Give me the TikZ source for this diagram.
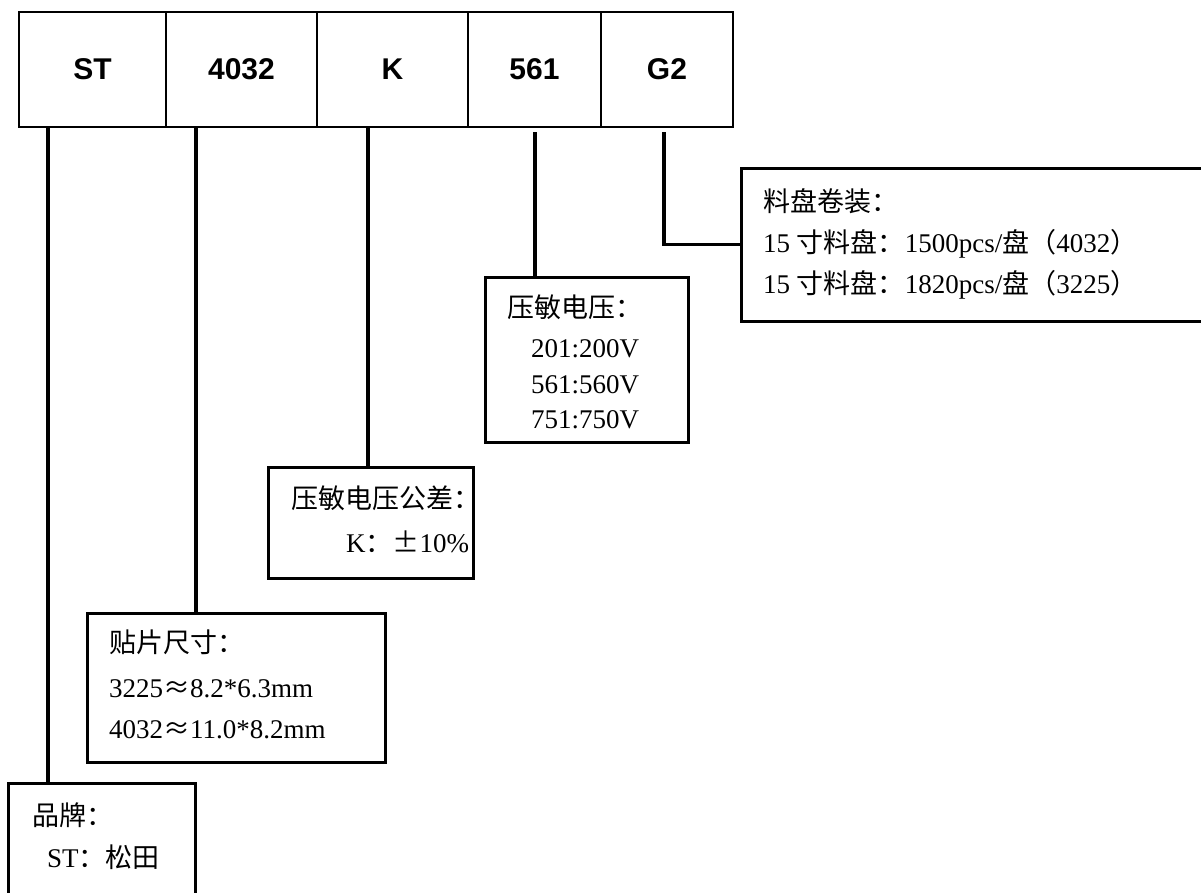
\documentclass[tikz,border=0pt]{standalone}
\usepackage{fontspec}
\setmainfont{Liberation Serif}
\newfontfamily\cjkfont{Noto Sans CJK SC}
\newfontfamily\codefont{Liberation Sans}
\newcommand{\zh}[1]{{\cjkfont #1}}
\begin{document}
\begin{tikzpicture}[x=1pt,y=-1pt,
  cell/.style={draw,line width=2.6pt,minimum height=115,inner sep=0pt,outer sep=0pt,
    font=\codefont\bfseries\fontsize{30}{36}\selectfont},
  infobox/.style={draw,line width=3pt,inner sep=0pt,outer sep=0pt},
  txt/.style={anchor=base west,inner sep=0pt,font=\fontsize{27}{32}\selectfont},
  link/.style={line width=3.4pt}]
\useasboundingbox (0,0) rectangle (1201,892);

% code cells
\node[cell,minimum width=147] (st) at (92.5,69.5) {ST};
\node[cell,minimum width=151] (size) at (241.5,69.5) {4032};
\node[cell,minimum width=151] (tol) at (392.5,69.5) {K};
\node[cell,minimum width=133] (volt) at (534.5,69.5) {561};
\node[cell,minimum width=132] (pack) at (667,69.5) {G2};

% boxes
\node[infobox,minimum width=474,minimum height=153] (packbox) at (978,244.5) {};
\node[infobox,minimum width=203,minimum height=165] (voltbox) at (586.5,359.5) {};
\node[infobox,minimum width=205,minimum height=111] (tolbox) at (370.5,522.5) {};
\node[infobox,minimum width=298,minimum height=149] (sizebox) at (236,687.5) {};
\node[infobox,minimum width=187,minimum height=130] (brandbox) at (101.5,848) {};

% texts
\node[txt] (pack1) at (763,211) {\zh{料盘卷装：}};
\node[txt] (pack2) at (763,252) {15 \zh{寸料盘：}1500pcs/\zh{盘（}4032\zh{）}};
\node[txt] (pack3) at (763,293) {15 \zh{寸料盘：}1820pcs/\zh{盘（}3225\zh{）}};

\node[txt] (volt1) at (507,317) {\zh{压敏电压：}};
\node[txt] (volt2) at (531,357) {201:200V};
\node[txt] (volt3) at (531,393) {561:560V};
\node[txt] (volt4) at (531,428) {751:750V};

\node[txt] (tol1) at (291,508) {\zh{压敏电压公差：}};
\node[txt] (tol2) at (346,552) {K\zh{：±}10\%};

\node[txt] (size1) at (109,652) {\zh{贴片尺寸：}};
\node[txt] (size2) at (109,697) {3225\zh{≈}8.2*6.3mm};
\node[txt] (size3) at (109,738) {4032\zh{≈}11.0*8.2mm};

\node[txt] (brand1) at (32,825) {\zh{品牌：}};
\node[txt] (brand2) at (47,867) {ST\zh{：松田}};

% connectors
\coordinate (st-tap) at (48,127);
\coordinate (size-tap) at (196,127);
\coordinate (tol-tap) at (368,127);
\coordinate (volt-tap) at (535,132);
\coordinate (pack-tap) at (664,132);
\draw[link] (st-tap) -- (st-tap |- brandbox.north);
\draw[link] (size-tap) -- (size-tap |- sizebox.north);
\draw[link] (tol-tap) -- (tol-tap |- tolbox.north);
\draw[link] (volt-tap) -- (volt-tap |- voltbox.north);
\draw[link] (pack-tap) |- (packbox.west);
\end{tikzpicture}
\end{document}
